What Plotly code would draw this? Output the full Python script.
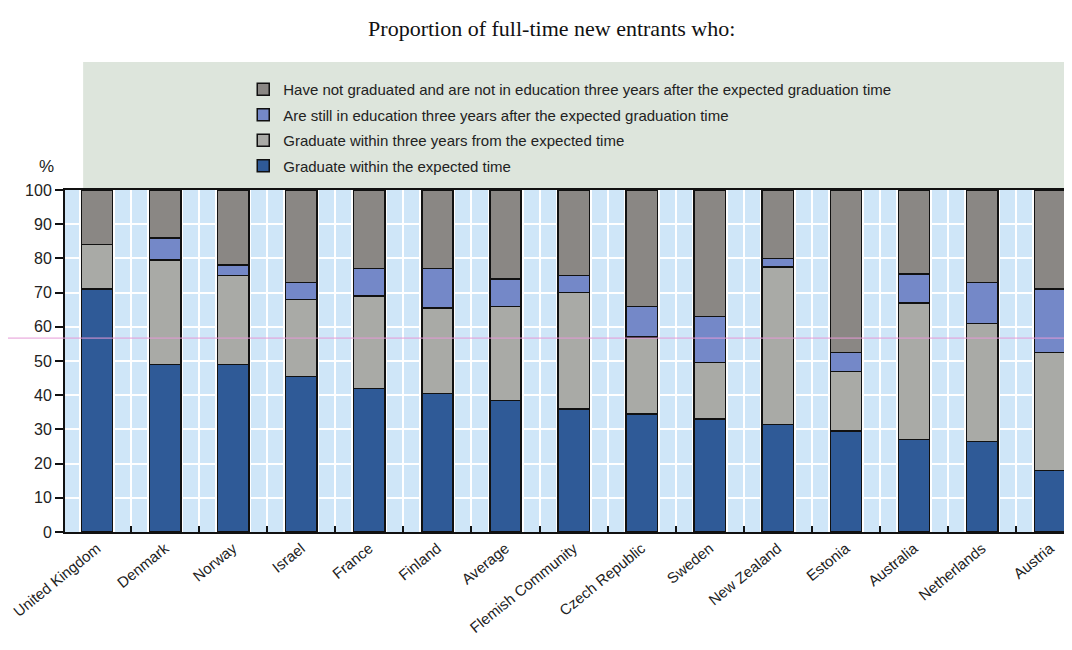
import plotly.graph_objects as go

countries = ["United Kingdom", "Denmark", "Norway", "Israel", "France", "Finland",
             "Average", "Flemish Community", "Czech Republic", "Sweden", "New Zealand",
             "Estonia", "Australia", "Netherlands", "Austria"]
grad_expected = [71, 49, 49, 45.5, 42, 40.5, 38.5, 36, 34.5, 33, 31.5, 29.5, 27, 26.5, 18]
grad_within3 = [13, 30.5, 26, 22.5, 27, 25, 27.5, 34, 22.5, 16.5, 46, 17.5, 40, 34.5, 34.5]
still_in_edu = [0, 6.5, 3, 5, 8, 11.5, 8, 5, 9, 13.5, 2.5, 5.5, 8.5, 12, 18.5]
not_graduated = [16, 14, 22, 27, 23, 23, 26, 25, 34, 37, 20, 47.5, 24.5, 27, 29]

series = [
    ("Graduate within the expected time", grad_expected, "#2f5a97"),
    ("Graduate within three years from the expected time", grad_within3, "#a9aaa6"),
    ("Are still in education three years after the expected graduation time", still_in_edu, "#7488c8"),
    ("Have not graduated and are not in education three years after the expected graduation time", not_graduated, "#8a8784"),
]

xpos = list(range(len(countries)))
FONT = "Liberation Sans Narrow, Arial Narrow, Liberation Sans, Arial, sans-serif"
W, H = 1064, 642  # page body has an 8px margin

fig = go.Figure()
n = len(series)
for i, (name, vals, col) in enumerate(series):
    fig.add_trace(go.Bar(
        x=xpos, y=vals, name=name, width=0.46, legendgroup=f"g{i}",
        legendrank=n - i,
        marker=dict(color=col, line=dict(color="#111111", width=1.5)),
    ))

# invisible trace to carry the tick-mark overlay axis
fig.add_trace(go.Scatter(x=[0], y=[0], xaxis="x2", mode="markers",
                         marker=dict(opacity=0), showlegend=False, hoverinfo="skip"))

fig.update_layout(
    width=W, height=H,
    barmode="stack",
    paper_bgcolor="white",
    plot_bgcolor="#cfe6f8",
    margin=dict(l=57, r=0, t=182, b=118, autoexpand=False),
    font=dict(family=FONT, size=15, color="#222222"),
    title=dict(text="Proportion of full-time new entrants who:",
               font=dict(family="Liberation Serif, Times New Roman, serif", size=22, color="#111111"),
               x=0.511, xanchor="center", y=1 - 20 / H, yanchor="middle"),
    legend=dict(x=0.177, xanchor="left", xref="paper", y=1 - 65 / H, yanchor="top",
                yref="container",
                traceorder="grouped", tracegroupgap=3,
                bgcolor="rgba(0,0,0,0)", font=dict(family=FONT, size=15, color="#222222"),
                itemwidth=30),
    xaxis=dict(range=[-0.47, 14.32], tickmode="array", tickvals=xpos, ticktext=countries,
               tickangle=-39, tickfont=dict(family=FONT, size=15, color="#222222"),
               ticklabeloverflow="allow",
               showgrid=False, zeroline=False, ticks="", automargin=False,
               showline=True, linecolor="#111111", linewidth=2, mirror=True,
               minor=dict(dtick=0.25, tick0=0, showgrid=True, gridcolor="white", gridwidth=2)),
    xaxis2=dict(overlaying="x", range=[-0.47, 14.32], tickmode="array",
                tickvals=[k + 0.5 for k in xpos], ticks="inside", ticklen=6, tickwidth=2,
                tickcolor="#111111", showticklabels=False, showgrid=False, zeroline=False,
                anchor="y", side="bottom", automargin=False),
    yaxis=dict(range=[0, 100], tickvals=list(range(0, 101, 10)), ticks="outside", ticklen=8,
               tickwidth=2, tickcolor="#111111", showline=True, linecolor="#111111", linewidth=2,
               gridcolor="white", gridwidth=2, zeroline=False, automargin=False,
               tickfont=dict(family=FONT, size=16, color="#222222")),
    shapes=[
        dict(type="rect", xref="paper", yref="paper", x0=0.018, x1=1.0, y0=1.006, y1=1.374,
             fillcolor="#dde5dc", line=dict(width=0), layer="below"),
        dict(type="line", xref="paper", yref="y", x0=-0.057, x1=1.0, y0=56.7, y1=56.7,
             line=dict(color="#e59ad6", width=1), layer="above"),
    ],
    annotations=[
        dict(text="%", xref="paper", yref="paper", x=-0.028, y=1.102, showarrow=False,
             font=dict(family=FONT, size=17, color="#222222")),
    ],
)

fig.write_html("out.html")
